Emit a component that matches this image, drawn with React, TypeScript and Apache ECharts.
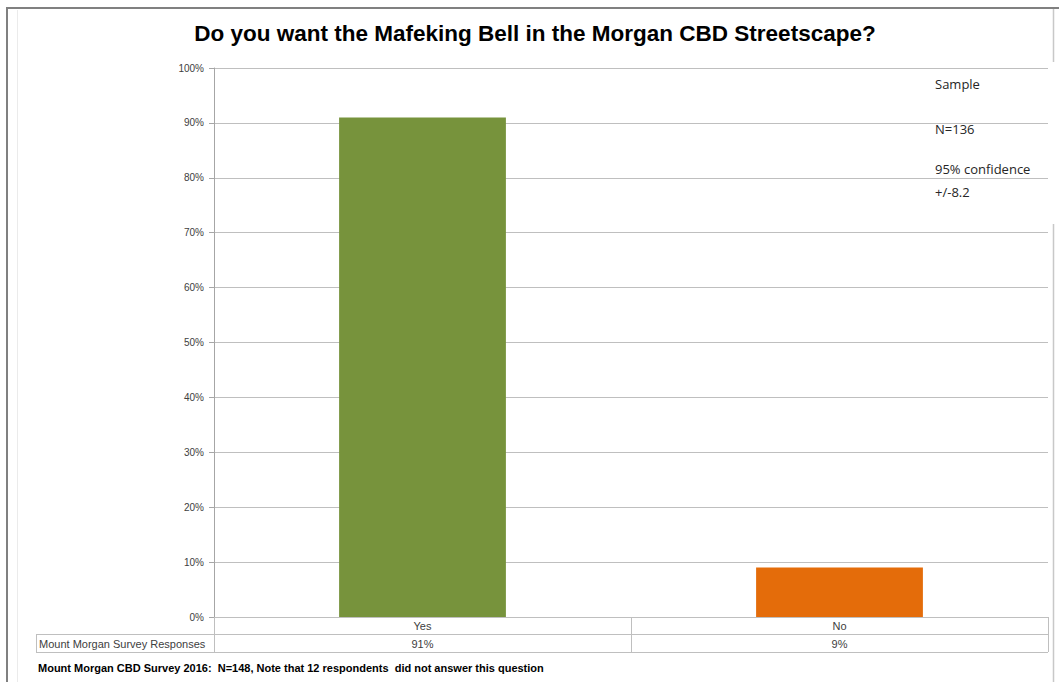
import React, { useEffect, useRef } from "react";
import * as echarts from "echarts";

const categories = ["Yes", "No"];
const responses = [91, 9];
const seriesName = "Mount Morgan Survey Responses";
const titleText = "Do you want the Mafeking Bell in the Morgan CBD Streetscape?";
const sampleLines = ["Sample", "N=136", "95% confidence", "+/-8.2"];
const footnote = "Mount Morgan CBD Survey 2016:  N=148, Note that 12 respondents  did not answer this question";
const barColors = ["#77933C", "#E46C0A"];

const NARROW = "'Liberation Sans Narrow', 'Arial Narrow', 'Liberation Sans', Arial, sans-serif";

export default function App() {
  const ref = useRef<HTMLDivElement>(null);
  useEffect(() => {
    if (!ref.current) return;
    const chart = echarts.init(ref.current, null, { renderer: "svg" });
    const gridLeft = 214, gridRight = 1048, gridTop = 68, gridBottom = 617;
    const row1 = 634, row2 = 652, tableLeft = 36, colMid = 631;
    const lineStyle = { stroke: "#BFBFBF", lineWidth: 1 };
    const hLine = (y: number, x1: number, x2: number) => ({ type: "line", silent: true, shape: { x1, y1: y, x2, y2: y }, style: lineStyle });
    const vLine = (x: number, y1: number, y2: number) => ({ type: "line", silent: true, shape: { x1: x, y1, x2: x, y2 }, style: lineStyle });
    const boxFont = "13px 'Open Sans', Carlito, sans-serif";
    chart.setOption({
      animation: false,
      backgroundColor: "#ffffff",
      grid: { left: gridLeft, right: 1059 - gridRight, top: gridTop, bottom: 682 - gridBottom, containLabel: false },
      xAxis: [
        {
          type: "category",
          data: categories,
          axisLine: { show: true, lineStyle: { color: "#BFBFBF" } },
          axisTick: { show: false },
          axisLabel: { color: "#404040", fontFamily: NARROW, fontSize: 11, margin: 3 },
        },
        {
          type: "category",
          data: categories,
          position: "bottom",
          offset: 18,
          axisLine: { show: false },
          axisTick: { show: false },
          axisLabel: {
            color: "#404040",
            fontFamily: NARROW,
            fontSize: 11,
            margin: 3,
            formatter: (_v: string, i: number) => responses[i] + "%",
          },
        },
      ],
      yAxis: {
        type: "value",
        min: 0,
        max: 100,
        interval: 10,
        axisLine: { show: true, lineStyle: { color: "#A6A6A6" } },
        axisTick: { show: true, length: 5, lineStyle: { color: "#A6A6A6" } },
        axisLabel: { formatter: "{value}%", color: "#404040", fontFamily: "'Liberation Sans', Arial, sans-serif", fontSize: 10, margin: 10 },
        splitLine: { lineStyle: { color: "#BFBFBF" } },
      },
      series: [
        {
          name: seriesName,
          type: "bar",
          data: responses.map((v, i) => ({ value: v, itemStyle: { color: barColors[i] } })),
          barWidth: "40%",
        },
      ],
      graphic: [
        // outer frame
        { type: "line", silent: true, shape: { x1: 6, y1: 8, x2: 1059, y2: 8 }, style: { stroke: "#808080", lineWidth: 2 } },
        { type: "line", silent: true, shape: { x1: 7, y1: 8, x2: 7, y2: 682 }, style: { stroke: "#808080", lineWidth: 2 } },
        { type: "line", silent: true, shape: { x1: 17.5, y1: 10, x2: 17.5, y2: 682 }, style: { stroke: "#EBEBEB", lineWidth: 1 } },
        { type: "line", silent: true, shape: { x1: 1053.5, y1: 9, x2: 1053.5, y2: 682 }, style: { stroke: "#C8C8C8", lineWidth: 1.5 } },
        // data table
        hLine(gridBottom + 0.5, gridLeft, gridRight),
        hLine(row1 + 0.5, tableLeft, gridRight),
        hLine(row2 + 0.5, tableLeft, gridRight),
        vLine(tableLeft + 0.5, row1, row2),
        vLine(gridLeft + 0.5, gridBottom, row2),
        vLine(colMid + 0.5, gridBottom, row2),
        vLine(gridRight + 0.5, gridBottom, row2),
        {
          type: "text",
          silent: true,
          x: tableLeft + 3,
          y: (row1 + row2) / 2 + 1,
          style: { text: seriesName, fill: "#404040", font: `11px ${NARROW}`, textVerticalAlign: "middle" },
        },
        // sample text box
        { type: "rect", silent: true, shape: { x: 921, y: 62, width: 135, height: 162 }, style: { fill: "#ffffff" } },
        { type: "text", silent: true, x: 935, y: 84, style: { text: sampleLines[0], fill: "#262626", font: boxFont, textVerticalAlign: "middle" } },
        { type: "text", silent: true, x: 935, y: 129, style: { text: sampleLines[1], fill: "#262626", font: boxFont, textVerticalAlign: "middle" } },
        { type: "text", silent: true, x: 935, y: 169, style: { text: sampleLines[2], fill: "#262626", font: boxFont, textVerticalAlign: "middle" } },
        { type: "text", silent: true, x: 935, y: 192, style: { text: sampleLines[3], fill: "#262626", font: boxFont, textVerticalAlign: "middle" } },
        // title
        {
          type: "text",
          silent: true,
          x: 535,
          y: 33,
          style: { text: titleText, fill: "#000000", font: "bold 22.5px 'Liberation Sans', Arial, sans-serif", textAlign: "center", textVerticalAlign: "middle" },
        },
        // footnote
        {
          type: "text",
          silent: true,
          x: 38,
          y: 668,
          style: { text: footnote, fill: "#000000", font: `bold 11px ${NARROW}`, textVerticalAlign: "middle" },
        },
      ],
    });
    return () => chart.dispose();
  }, []);
  return <div ref={ref} style={{ position: "absolute", left: 0, top: 0, width: 1059, height: 682 }} />;
}
